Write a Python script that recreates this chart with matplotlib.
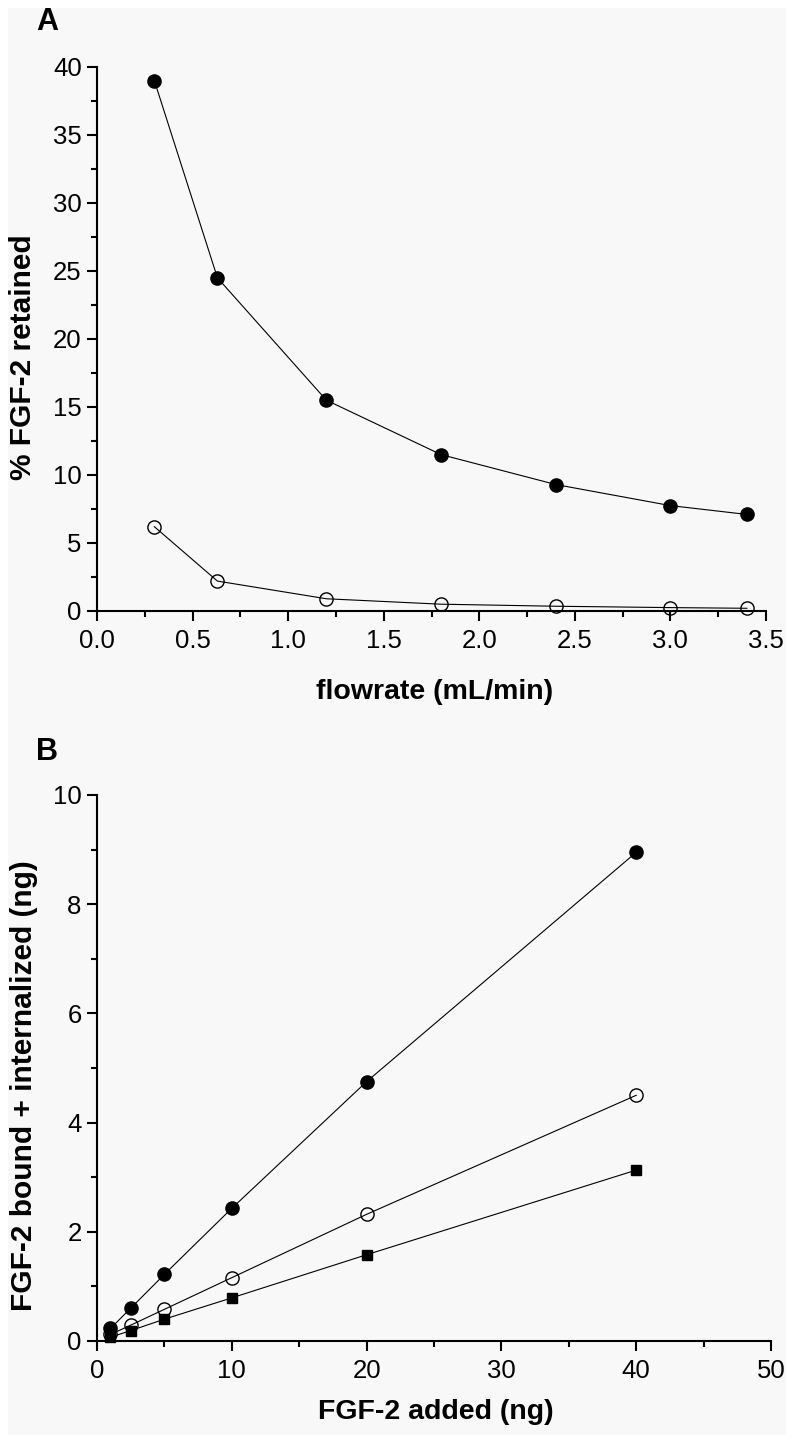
import matplotlib
matplotlib.use("Agg")
import matplotlib.pyplot as plt
from matplotlib.ticker import MultipleLocator
from matplotlib.patches import Rectangle

plt.rcParams['font.family'] = ['Liberation Sans', 'DejaVu Sans']

# panel A
flow = [0.3, 0.63, 1.2, 1.8, 2.4, 3.0, 3.4]
retained_filled = [39.0, 24.5, 15.5, 11.5, 9.3, 7.75, 7.1]
retained_open = [6.2, 2.2, 0.9, 0.5, 0.35, 0.25, 0.2]

# panel B
added = [1, 2.5, 5, 10, 20, 40]
bound_filled = [0.23, 0.6, 1.22, 2.43, 4.75, 8.95]
bound_open = [0.12, 0.29, 0.58, 1.16, 2.32, 4.5]
bound_square = [0.07, 0.19, 0.4, 0.79, 1.58, 3.13]

W, H = 795, 1443
fig = plt.figure(figsize=(W/100, H/100), dpi=100, facecolor='white')
fig.patches.append(Rectangle((8/W, 8/H), 778/W, 1427/H, transform=fig.transFigure,
                             facecolor='#f8f8f8', edgecolor='none', zorder=-10))

def style(ax):
    ax.set_facecolor('none')
    for s in ['top', 'right']:
        ax.spines[s].set_visible(False)
    for s in ['left', 'bottom']:
        ax.spines[s].set_linewidth(1.5)
    ax.tick_params(which='major', direction='out', length=7, width=1.5, labelsize=18.5)
    ax.tick_params(which='minor', direction='out', length=4.5, width=1.5)
    ax.tick_params(axis='x', pad=6)
    ax.tick_params(axis='y', pad=4)

lw = 0.8
ms = 9.5

# pixel boxes: left, right, top, bottom
ax1 = fig.add_axes([97/W, 1-611/H, (766-97)/W, (611-67)/H])
style(ax1)
ax1.plot(flow, retained_filled, '-o', color='black', lw=lw, ms=ms, mfc='black', clip_on=False)
ax1.plot(flow, retained_open, '-o', color='black', lw=lw, ms=ms, mfc='none', mew=1, clip_on=False)
ax1.set_xlim(0, 3.5)
ax1.set_ylim(0, 40)
ax1.xaxis.set_major_locator(MultipleLocator(0.5))
ax1.xaxis.set_minor_locator(MultipleLocator(0.25))
ax1.yaxis.set_major_locator(MultipleLocator(5))
ax1.yaxis.set_minor_locator(MultipleLocator(2.5))
ax1.xaxis.set_major_formatter(lambda v, p: f"{v:.1f}")
ax1.set_xlabel('flowrate (mL/min)', fontsize=20.5, fontweight='bold', va='center')
ax1.xaxis.set_label_coords((435-97)/669, (611-692)/544)
ax1.set_ylabel('% FGF-2 retained', fontsize=21.5, fontweight='bold', va='center')
ax1.yaxis.set_label_coords((23-97)/669, (611-357)/544)
fig.text(47/W, 1-22/H, 'A', fontsize=22, fontweight='bold', ha='center', va='center')

ax2 = fig.add_axes([97/W, 1-1341/H, (771-97)/W, (1341-795)/H])
style(ax2)
ax2.plot(added, bound_filled, '-o', color='black', lw=lw, ms=ms, mfc='black', clip_on=False)
ax2.plot(added, bound_open, '-o', color='black', lw=lw, ms=ms, mfc='none', mew=1, clip_on=False)
ax2.plot(added, bound_square, '-s', color='black', lw=lw, ms=7, mfc='black', clip_on=False)
ax2.set_xlim(0, 50)
ax2.set_ylim(0, 10)
ax2.xaxis.set_major_locator(MultipleLocator(10))
ax2.xaxis.set_minor_locator(MultipleLocator(5))
ax2.yaxis.set_major_locator(MultipleLocator(2))
ax2.yaxis.set_minor_locator(MultipleLocator(1))
ax2.set_xlabel('FGF-2 added (ng)', fontsize=20.5, fontweight='bold', va='center')
ax2.xaxis.set_label_coords((436-97)/674, (1341-1412)/546)
ax2.set_ylabel('FGF-2 bound + internalized (ng)', fontsize=21.5, fontweight='bold', va='center')
ax2.yaxis.set_label_coords((24-97)/674, (1341-1086)/546)
fig.text(47/W, 1-752/H, 'B', fontsize=22, fontweight='bold', ha='center', va='center')

fig.savefig('out.png', dpi=100, facecolor='white')
